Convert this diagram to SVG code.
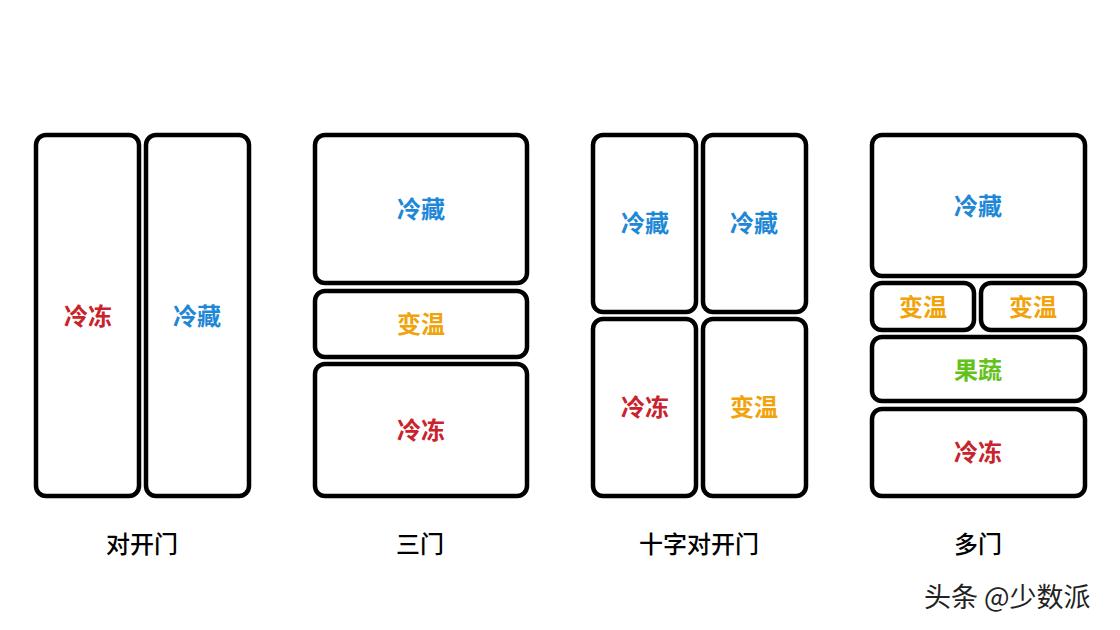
<svg xmlns="http://www.w3.org/2000/svg" width="1120" height="630" viewBox="0 0 1120 630">
<style>
.door{fill:#fff;stroke:#000;stroke-width:4.5}
.lb{font-family:"Noto Sans CJK SC","Noto Sans",sans-serif;font-size:24px;font-weight:bold;text-anchor:middle;dominant-baseline:central}
.red{fill:#c9232b}.blue{fill:#1e88d6}.orange{fill:#f0a30a}.green{fill:#62c21a}
.cap{font-family:"Noto Sans CJK SC","Noto Sans",sans-serif;font-size:24px;font-weight:500;fill:#000;text-anchor:middle;dominant-baseline:central}
.wm{font-family:"Noto Sans CJK SC","Noto Sans",sans-serif;font-size:27px;fill:#222}
</style>
<rect width="1120" height="630" fill="#fff"/>
<g id="fridge1">
<rect class="door" x="36" y="135" width="103" height="361" rx="10"/>
<rect class="door" x="146" y="135" width="103" height="361" rx="10"/>
<text class="lb red" x="88" y="314">冷冻</text>
<text class="lb blue" x="197" y="314">冷藏</text>
<text class="cap" x="142" y="542">对开门</text>
</g>
<g id="fridge2">
<rect class="door" x="315" y="135" width="212" height="148" rx="10"/>
<rect class="door" x="315" y="291" width="212" height="66" rx="10"/>
<rect class="door" x="315" y="364" width="212" height="132" rx="10"/>
<text class="lb blue" x="421" y="207">冷藏</text>
<text class="lb orange" x="421" y="322">变温</text>
<text class="lb red" x="421" y="428">冷冻</text>
<text class="cap" x="420" y="542">三门</text>
</g>
<g id="fridge3">
<rect class="door" x="593" y="135" width="103" height="177" rx="10"/>
<rect class="door" x="703" y="135" width="103" height="177" rx="10"/>
<rect class="door" x="593" y="319" width="103" height="177" rx="10"/>
<rect class="door" x="703" y="319" width="103" height="177" rx="10"/>
<text class="lb blue" x="645" y="221">冷藏</text>
<text class="lb blue" x="754" y="221">冷藏</text>
<text class="lb red" x="645" y="405">冷冻</text>
<text class="lb orange" x="754" y="405">变温</text>
<text class="cap" x="699" y="542">十字对开门</text>
</g>
<g id="fridge4">
<rect class="door" x="872" y="135" width="213" height="141" rx="10"/>
<rect class="door" x="872" y="283" width="102" height="47" rx="10"/>
<rect class="door" x="981" y="283" width="104" height="47" rx="10"/>
<rect class="door" x="872" y="337" width="213" height="64" rx="10"/>
<rect class="door" x="872" y="409" width="213" height="87" rx="10"/>
<text class="lb blue" x="978" y="204">冷藏</text>
<text class="lb orange" x="923" y="305">变温</text>
<text class="lb orange" x="1033" y="305">变温</text>
<text class="lb green" x="978" y="368">果蔬</text>
<text class="lb red" x="978" y="450">冷冻</text>
<text class="cap" x="978" y="542">多门</text>
</g>
<g id="connectors"/>
<text class="wm" x="924" y="607">头条 @少数派</text>
</svg>
